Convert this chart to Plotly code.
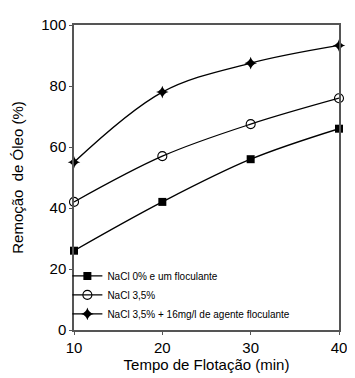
import plotly.graph_objects as go

tempo = [10, 20, 30, 40]
nacl0_floc = [26, 42, 56, 66]
nacl35 = [42, 57, 67.5, 76]
nacl35_floc = [55, 78, 87.5, 93.3]

names = ["NaCl 0% e um floculante", "NaCl 3,5%", "NaCl 3,5% + 16mg/l de agente floculante"]

fig = go.Figure()
fig.add_trace(go.Scatter(x=tempo, y=nacl0_floc, mode="lines+markers", name=names[0],
                         line=dict(color="black", width=1.3, shape="spline"),
                         marker=dict(symbol="square", size=8, color="black"),
                         cliponaxis=False))
fig.add_trace(go.Scatter(x=tempo, y=nacl35, mode="lines+markers", name=names[1],
                         line=dict(color="black", width=1.3, shape="spline"),
                         marker=dict(symbol="circle-open", size=9, color="black", line=dict(width=1.1)),
                         cliponaxis=False))
fig.add_trace(go.Scatter(x=tempo, y=nacl35_floc, mode="lines+markers", name=names[2],
                         line=dict(color="black", width=1.3, shape="spline"),
                         marker=dict(symbol="star-diamond", size=9, color="black"),
                         cliponaxis=False))

fig.update_layout(
    width=347, height=370,
    margin=dict(l=66, r=9, t=8, b=48),
    paper_bgcolor="white", plot_bgcolor="white",
    font=dict(family="Liberation Sans, Arial, sans-serif", color="black", size=15),
    legend=dict(x=-0.025, y=0.225, xanchor="left", yanchor="top",
                font=dict(size=10), bgcolor="rgba(0,0,0,0)",
                itemwidth=30, tracegroupgap=6),
    showlegend=True,
)
fig.update_xaxes(range=[10, 40], tickvals=[10, 20, 30, 40], showgrid=False, zeroline=False,
                 showline=True, linecolor="#555", linewidth=1.5, mirror=True,
                 ticks="outside", ticklen=3, tickcolor="#555",
                 title=dict(text="Tempo de Flotação (min)", font=dict(size=15), standoff=2))
fig.update_yaxes(range=[0, 100], tickvals=[0, 20, 40, 60, 80, 100], showgrid=False, zeroline=False,
                 showline=True, linecolor="#555", linewidth=1.5, mirror=True,
                 ticks="outside", ticklen=3, tickcolor="#555",
                 title=dict(text="Remoção  de Óleo (%)", font=dict(size=15), standoff=14))

fig.write_html("out.html")
